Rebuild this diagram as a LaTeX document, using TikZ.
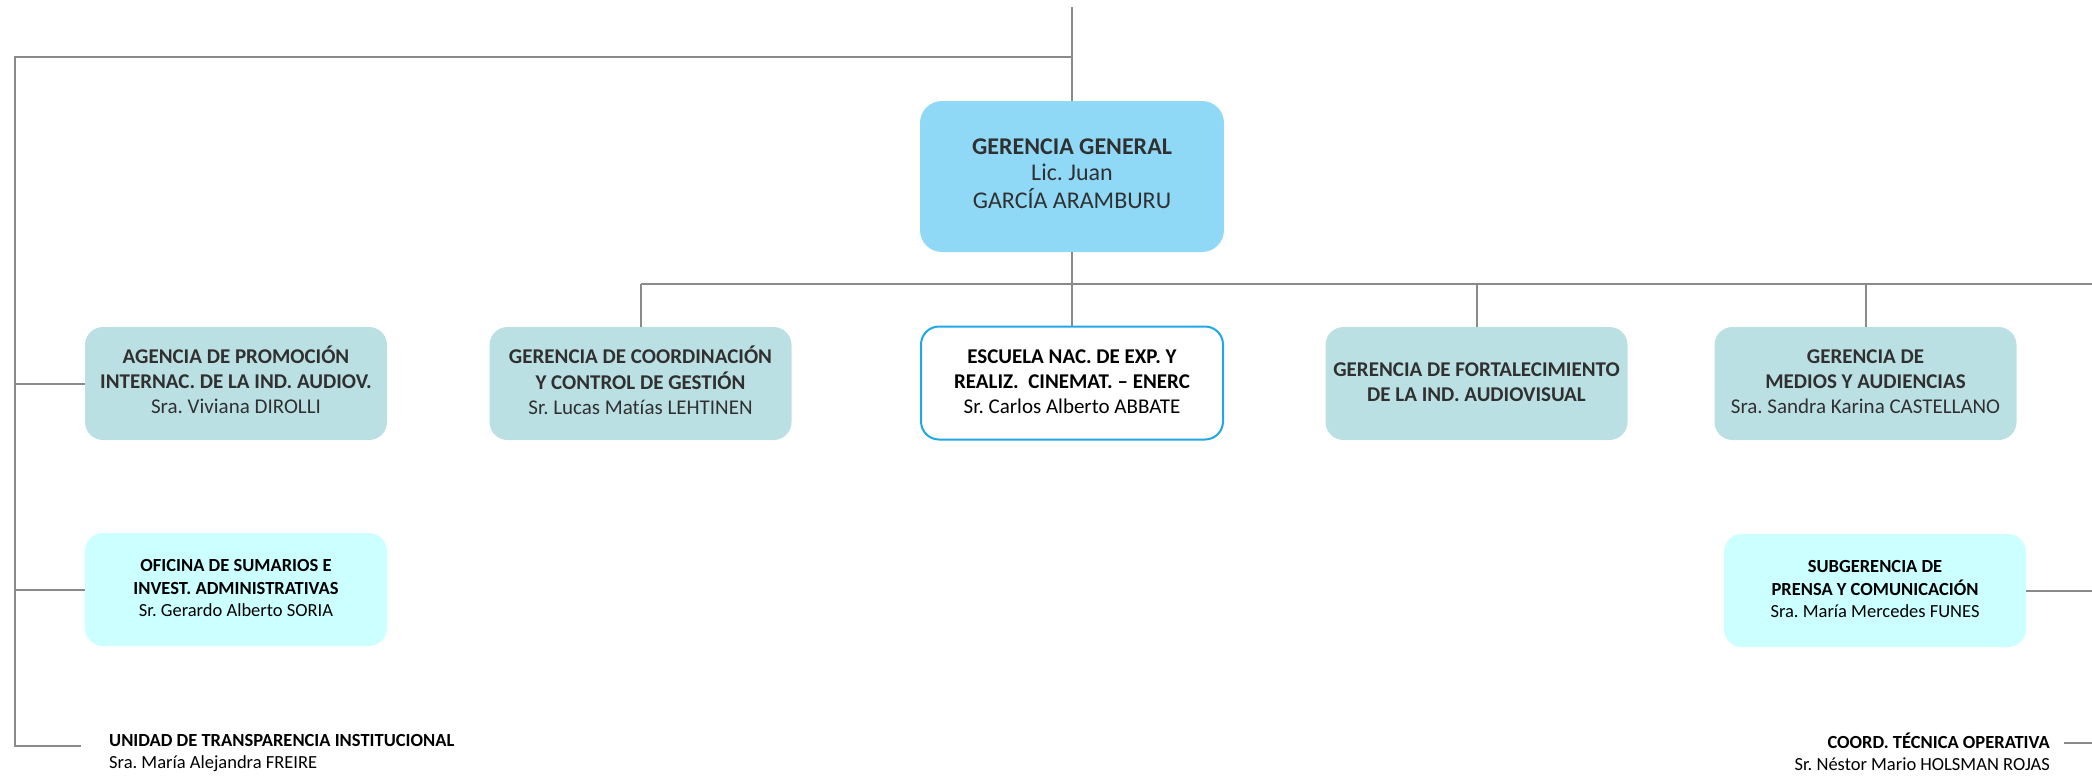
\documentclass[tikz,border=0pt]{standalone}
\usepackage{fontspec}
\setmainfont{Carlito}[Ligatures=NoCommon]
\frenchspacing
\definecolor{linegray}{HTML}{8A8A8A}
\definecolor{mainblue}{HTML}{8FD9F7}
\definecolor{teal}{HTML}{BBE0E3}
\definecolor{cyanbox}{HTML}{CCFFFF}
\definecolor{enercblue}{HTML}{1FA7E8}
\definecolor{darktext}{HTML}{303030}
\begin{document}
\begin{tikzpicture}[x=1pt,y=-1pt,
  conn/.style={draw=linegray, line width=2pt},
  basebox/.style={rounded corners=18pt, align=center, inner sep=0pt, minimum width=302pt, minimum height=113pt},
  mainbox/.style={basebox, fill=mainblue, rounded corners=22pt, minimum width=304pt, minimum height=151pt, text=darktext, font=\fontsize{24}{25.5}\selectfont},
  tealbox/.style={basebox, fill=teal, text=darktext, font=\fontsize{21}{25}\selectfont},
  whitebox/.style={basebox, fill=white, draw=enercblue, line width=2pt, text=black, font=\fontsize{21}{25}\selectfont},
  cyanboxst/.style={basebox, fill=cyanbox, text=black, font=\fontsize{18.5}{22.5}\selectfont},
  plaintext/.style={inner sep=0pt, text=black, font=\fontsize{18.5}{22.5}\selectfont}
]
\useasboundingbox (0,0) rectangle (2092,777);

% nodes
\node[mainbox] (gg) at (1072,176.5) {\strut\textbf{GERENCIA GENERAL}\\\strut Lic. Juan\\\strut GARCÍA ARAMBURU};

\node[tealbox] (ag) at (236,383.5) {\strut\textbf{AGENCIA DE PROMOCIÓN}\\\strut\textbf{INTERNAC. DE LA IND. AUDIOV.}\\\strut Sra. Viviana DIROLLI};
\node[tealbox] (gc) at (640.5,383.5) {\strut\textbf{GERENCIA DE COORDINACIÓN}\\\strut\textbf{Y CONTROL DE GESTIÓN}\\\strut Sr. Lucas Matías LEHTINEN};
\node[whitebox] (es) at (1072,383) {\strut\textbf{ESCUELA NAC. DE EXP. Y}\\\strut\textbf{REALIZ.~~CINEMAT. – ENERC}\\\strut Sr. Carlos Alberto ABBATE};
\node[tealbox] (gf) at (1476.5,383.5) {\strut\textbf{GERENCIA DE FORTALECIMIENTO}\\\strut\textbf{DE LA IND. AUDIOVISUAL}};
\node[tealbox] (gm) at (1865.5,383.5) {\strut\textbf{GERENCIA DE}\\\strut\textbf{MEDIOS Y AUDIENCIAS}\\\strut Sra. Sandra Karina CASTELLANO};

\node[cyanboxst] (of) at (236,589.5) {\strut\textbf{OFICINA DE SUMARIOS E}\\\strut\textbf{INVEST. ADMINISTRATIVAS}\\\strut Sr. Gerardo Alberto SORIA};
\node[cyanboxst] (sg) at (1875,590.5) {\strut\textbf{SUBGERENCIA DE}\\\strut\textbf{PRENSA Y COMUNICACIÓN}\\\strut Sra. María Mercedes FUNES};

\node[plaintext, align=left, anchor=north west] (ut) at (109,730.3) {\strut\textbf{UNIDAD DE TRANSPARENCIA INSTITUCIONAL}\\\strut Sra. María Alejandra FREIRE};
\node[plaintext, align=right, anchor=north east] (ct) at (2050,732.3) {\strut\textbf{COORD. TÉCNICA OPERATIVA}\\\strut Sr. Néstor Mario HOLSMAN ROJAS};

% coordinates
\coordinate (top) at (1072,7);
\coordinate (jt) at (1072,57);
\coordinate (tl) at (15,57);
\coordinate (lb) at (15,746);
\coordinate (utl) at (81,746);
\coordinate (busL) at (641,284);
\coordinate (busR) at (2092,284);
\coordinate (sgR) at (2092,590.5);
\coordinate (ctL) at (2064,743);
\coordinate (ctR) at (2092,743);

% connectors
\draw[conn] (top) -- (gg.north);
\draw[conn] (gg.south) -- (gg.south |- busL);
\draw[conn] (jt) -- (tl) -- (lb) -- (utl);
\draw[conn] (busL) -- (busR);
\draw[conn] (gc.north) -- (gc.north |- busL);
\draw[conn] (es.north) -- (es.north |- busL);
\draw[conn] (gf.north) -- (gf.north |- busL);
\draw[conn] (gm.north) -- (gm.north |- busL);
\draw[conn] (ag.west) -- (ag.west -| tl);
\draw[conn] (of.west) -- (of.west -| tl);
\draw[conn] (sg.east) -- (sgR);
\draw[conn] (ctL) -- (ctR);
\end{tikzpicture}
\end{document}
